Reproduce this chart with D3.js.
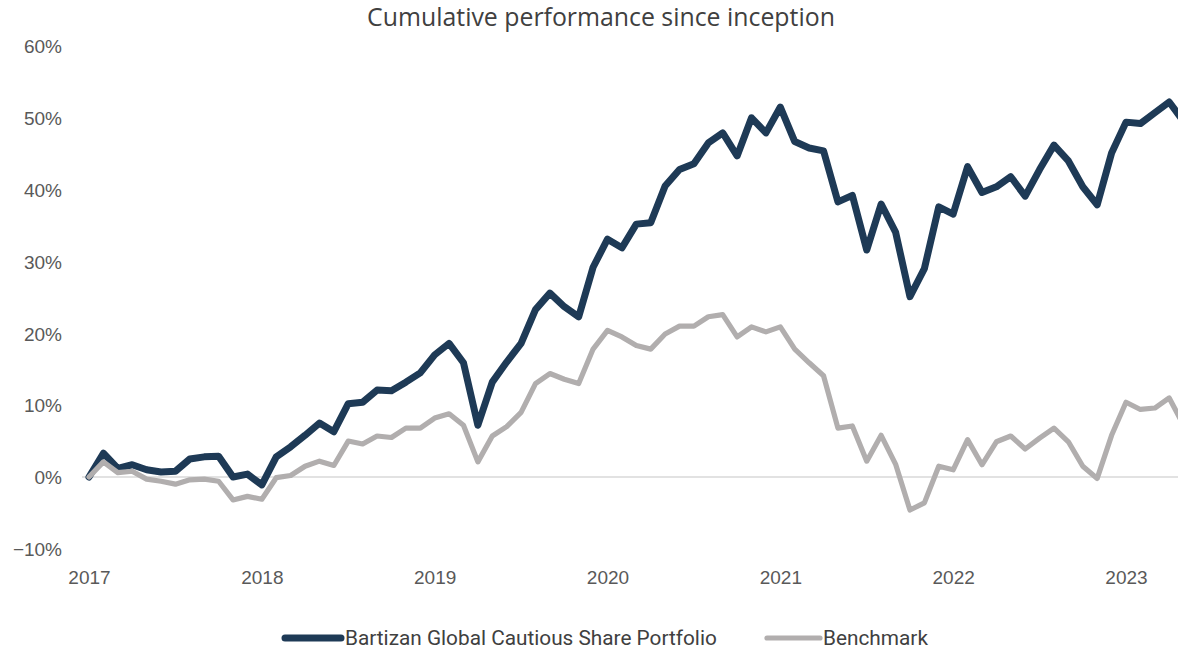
<!DOCTYPE html>
<html>
<head>
<meta charset="utf-8">
<script src="https://cdn.jsdelivr.net/npm/d3@7"></script>
<style>
  html, body { margin: 0; padding: 0; background: #fff; overflow: hidden; }
  svg { display: block; }
</style>
</head>
<body>
<svg id="chart" width="1178" height="649"></svg>
<script>
// ---- data ----
const startYear = 2017;
const yearTicks = [2017, 2018, 2019, 2020, 2021, 2022, 2023];
const yTicks = [-0.1, 0, 0.1, 0.2, 0.3, 0.4, 0.5, 0.6];
const seriesNames = ["Bartizan Global Cautious Share Portfolio", "Benchmark"];
// monthly cumulative performance (%), Jan 2017 .. May 2023
const portfolio = [
  0.0, 3.3, 1.2, 1.7, 1.0, 0.7, 0.8, 2.5, 2.8, 2.9, 0.0, 0.4,
  -1.1, 2.8, 4.2, 5.8, 7.5, 6.3, 10.2, 10.4, 12.1, 12.0, 13.2, 14.5,
  17.0, 18.6, 15.9, 7.2, 13.2, 16.0, 18.6, 23.3, 25.6, 23.7, 22.3, 29.2,
  33.1, 31.9, 35.2, 35.4, 40.5, 42.8, 43.6, 46.5, 47.9, 44.7, 50.0, 47.9,
  51.5, 46.7, 45.8, 45.4, 38.3, 39.2, 31.6, 38.0, 34.1, 25.1, 29.0, 37.6,
  36.6, 43.2, 39.6, 40.4, 41.8, 39.1, 42.8, 46.2, 44.0, 40.4, 37.9, 45.1,
  49.4, 49.2, 50.7, 52.2, 49.5
];
const benchmark = [
  0.0, 2.1, 0.6, 0.8, -0.3, -0.6, -1.0, -0.4, -0.3, -0.6, -3.2, -2.7,
  -3.1, -0.1, 0.2, 1.5, 2.2, 1.6, 5.0, 4.6, 5.7, 5.5, 6.8, 6.8,
  8.2, 8.8, 7.2, 2.1, 5.7, 7.0, 9.0, 13.0, 14.4, 13.6, 13.0, 17.8,
  20.4, 19.5, 18.3, 17.8, 19.9, 21.0, 21.0, 22.3, 22.6, 19.5, 20.9, 20.2,
  20.9, 17.8, 15.9, 14.1, 6.8, 7.1, 2.2, 5.8, 1.8, -4.6, -3.6, 1.5,
  1.0, 5.2, 1.7, 4.9, 5.7, 3.9, 5.4, 6.8, 4.9, 1.5, -0.2, 5.8,
  10.4, 9.4, 9.6, 11.0, 7.2
];

// ---- layout ----
const W = 1178, H = 649;
const svg = d3.select("#chart");
const colors = ["#1e3a56", "#b1aeae"];
const widths = [7, 5.2];

// month index scale (0 = Jan 2017)
const x = d3.scaleLinear().domain([0, 72]).range([89, 1126]);
const y = d3.scaleLinear().domain([-0.1, 0.6]).range([548.8, 46]);

// title
const title = svg.append("text")
  .attr("x", 601).attr("y", 26)
  .attr("text-anchor", "middle")
  .attr("font-family", "'Open Sans', sans-serif")
  .attr("font-size", 22)
  .attr("fill", "#404040")
  .text("Cumulative performance since inception");
function fitWidth(sel, target) {
  const w = sel.node().getComputedTextLength();
  const fs = parseFloat(sel.attr("font-size"));
  sel.attr("font-size", fs * target / w);
}
fitWidth(title, 468);

// y axis labels
const yAxis = d3.axisLeft(y).tickValues(yTicks).tickFormat(d3.format(".0%")).tickSize(0).tickPadding(0);
const gy = svg.append("g").attr("transform", "translate(62,0)").call(yAxis);
gy.select(".domain").remove();
gy.selectAll("text")
  .attr("font-family", "'Liberation Sans', Arial, sans-serif")
  .attr("font-size", 19)
  .attr("fill", "#595959")
  .attr("dy", "0.36em");

// zero line
svg.append("line")
  .attr("x1", 82).attr("x2", W)
  .attr("y1", y(0)).attr("y2", y(0))
  .attr("stroke", "#d9d9d9").attr("stroke-width", 1.5);

// x axis labels
const xAxis = d3.axisBottom(x)
  .tickValues(yearTicks.map(yr => (yr - startYear) * 12))
  .tickFormat(d => String(startYear + d / 12))
  .tickSize(0).tickPadding(0);
const gx = svg.append("g").attr("transform", "translate(0,570)").call(xAxis);
gx.select(".domain").remove();
gx.selectAll("text")
  .attr("font-family", "'Liberation Sans', Arial, sans-serif")
  .attr("font-size", 19)
  .attr("fill", "#595959")
  .attr("dy", "0.71em");

// lines
const line = d3.line().x((d, i) => x(i)).y(d => y(d / 100));
[portfolio, benchmark].forEach((s, k) => {
  svg.append("path")
    .datum(s)
    .attr("d", line)
    .attr("fill", "none")
    .attr("stroke", colors[k])
    .attr("stroke-width", widths[k])
    .attr("stroke-linejoin", "round")
    .attr("stroke-linecap", "round");
});

// legend
const legendItems = [
  { name: seriesNames[0], x0: 285, x1: 341, tx: 345, tw: 372 },
  { name: seriesNames[1], x0: 767, x1: 820, tx: 823, tw: 105 }
];
legendItems.forEach((it, k) => {
  svg.append("line")
    .attr("x1", it.x0).attr("x2", it.x1)
    .attr("y1", 638).attr("y2", 638)
    .attr("stroke", colors[k]).attr("stroke-width", widths[k])
    .attr("stroke-linecap", "round");
  const t = svg.append("text")
    .attr("x", it.tx).attr("y", 638)
    .attr("dy", "0.36em")
    .attr("font-family", "Roboto, sans-serif")
    .attr("font-size", 18)
    .attr("fill", "#404040")
    .text(it.name);
  fitWidth(t, it.tw);
});
</script>
</body>
</html>
